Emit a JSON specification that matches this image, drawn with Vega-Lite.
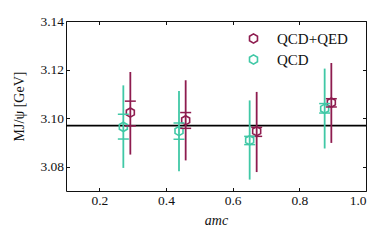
{
  "$schema": "https://vega.github.io/schema/vega-lite/v6.json",
  "width": 300,
  "height": 170,
  "autosize": {"type": "none"},
  "padding": {"left": 66, "top": 21, "right": 24, "bottom": 50},
  "background": "white",
  "config": {
    "view": {"stroke": "#111111", "strokeWidth": 1},
    "font": "Liberation Serif",
    "axis": {
      "domain": false, "grid": false,
      "tickColor": "#111111", "tickSize": -3.5, "tickWidth": 1,
      "labelFont": "Liberation Serif", "labelFontSize": 13.5, "labelColor": "#111111",
      "titleFont": "Liberation Serif", "titleFontSize": 14, "titleFontWeight": "normal", "titleColor": "#111111"
    },
    "legend": {"labelFont": "Liberation Serif", "labelFontSize": 15, "labelColor": "#111111"}
  },
  "data": {"values": [
    {"series": "QCD+QED", "x": 0.293, "y": 3.1023, "slo": 3.0968, "shi": 3.1070, "tlo": 3.0850, "thi": 3.1190},
    {"series": "QCD+QED", "x": 0.459, "y": 3.0991, "slo": 3.0958, "shi": 3.1023, "tlo": 3.0826, "thi": 3.1156},
    {"series": "QCD+QED", "x": 0.672, "y": 3.0946, "slo": 3.0925, "shi": 3.0962, "tlo": 3.0778, "thi": 3.1108},
    {"series": "QCD+QED", "x": 0.896, "y": 3.1064, "slo": 3.1046, "shi": 3.1080, "tlo": 3.0898, "thi": 3.1227},
    {"series": "QCD", "x": 0.272, "y": 3.0964, "slo": 3.0914, "shi": 3.1016, "tlo": 3.0795, "thi": 3.1135},
    {"series": "QCD", "x": 0.439, "y": 3.0947, "slo": 3.0913, "shi": 3.0980, "tlo": 3.0781, "thi": 3.1112},
    {"series": "QCD", "x": 0.651, "y": 3.0909, "slo": 3.0891, "shi": 3.0925, "tlo": 3.0747, "thi": 3.1073},
    {"series": "QCD", "x": 0.876, "y": 3.1039, "slo": 3.1021, "shi": 3.1060, "tlo": 3.0875, "thi": 3.1204}
  ]},
  "resolve": {"axis": {"x": "independent", "y": "independent"}},
  "layer": [
    {
      "data": {"values": [{"m": 3.0969}]},
      "mark": {"type": "rule", "color": "#000000", "strokeWidth": 1.6},
      "encoding": {
        "y": {"field": "m", "type": "quantitative", "scale": {"domain": [3.07, 3.14], "nice": false, "zero": false},
              "axis": {"values": [3.08, 3.10, 3.12, 3.14], "format": ".2f", "title": "MJ/ψ  [GeV]", "labelPadding": 6, "titlePadding": 13}}
      }
    },
    {
      "mark": {"type": "point", "shape": "M0,-1L0.866,-0.5L0.866,0.5L0,1L-0.866,0.5L-0.866,-0.5Z", "filled": false, "size": 85, "strokeWidth": 1.6, "opacity": 1},
      "encoding": {
        "x": {"field": "x", "type": "quantitative", "scale": {"domain": [0.1, 1.0], "nice": false, "zero": false},
              "axis": {"values": [0.2, 0.4, 0.6, 0.8, 1.0], "format": ".1f", "title": "amc", "titleFontStyle": "italic", "labelPadding": 6, "titlePadding": 6}},
        "y": {"field": "y", "type": "quantitative", "axis": null},
        "color": {"field": "series", "type": "nominal", "title": null,
                  "scale": {"domain": ["QCD+QED", "QCD"], "range": ["#8e1c4f", "#40c8a6"]},
                  "legend": {"orient": "none", "legendX": 180, "legendY": 10, "symbolType": "M0,-1L0.866,-0.5L0.866,0.5L0,1L-0.866,0.5L-0.866,-0.5Z", "symbolSize": 85, "symbolStrokeWidth": 1.6, "labelOffset": 16, "rowPadding": 4, "padding": 0}}
      }
    },
    {
      "mark": {"type": "rule", "strokeWidth": 1.8},
      "encoding": {
        "x": {"field": "x", "type": "quantitative", "axis": null},
        "y": {"field": "tlo", "type": "quantitative", "axis": null},
        "y2": {"field": "thi"},
        "color": {"field": "series", "type": "nominal"}
      }
    },
    {
      "mark": {"type": "rule", "strokeWidth": 1.5, "xOffset": -5.5, "x2Offset": 5.5},
      "encoding": {
        "x": {"field": "x", "type": "quantitative", "axis": null},
        "x2": {"field": "x"},
        "y": {"field": "slo", "type": "quantitative", "axis": null},
        "color": {"field": "series", "type": "nominal"}
      }
    },
    {
      "mark": {"type": "rule", "strokeWidth": 1.5, "xOffset": -5.5, "x2Offset": 5.5},
      "encoding": {
        "x": {"field": "x", "type": "quantitative", "axis": {"orient": "top", "values": [0.2, 0.4, 0.6, 0.8, 1.0], "labels": false, "title": null}},
        "x2": {"field": "x"},
        "y": {"field": "shi", "type": "quantitative", "axis": {"orient": "right", "values": [3.08, 3.10, 3.12, 3.14], "labels": false, "title": null}},
        "color": {"field": "series", "type": "nominal"}
      }
    }
  ]
}
